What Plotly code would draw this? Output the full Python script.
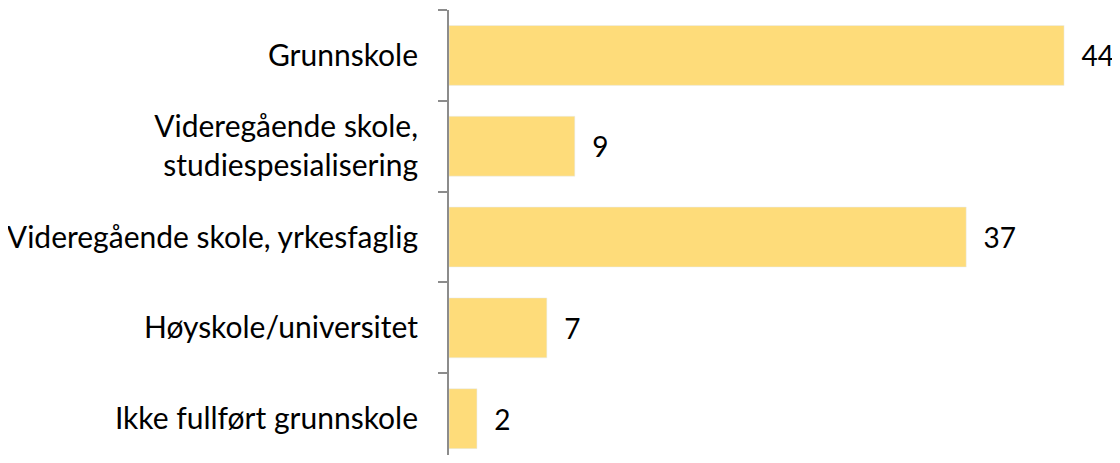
import plotly.graph_objects as go

# utdanningsnivå
kategorier = [
    "Grunnskole",
    "Videregående skole,<br>studiespesialisering",
    "Videregående skole, yrkesfaglig",
    "Høyskole/universitet",
    "Ikke fullført grunnskole",
]
verdier = [44, 9, 37, 7, 2]

fig = go.Figure()
fig.add_trace(go.Bar(
    x=verdier,
    y=kategorier,
    orientation="h",
    marker_color="#FEDC7A",
    text=[str(v) for v in verdier],
    texttemplate="  %{text}",
    textposition="outside",
    textfont=dict(size=28, color="black", family="Lato"),
    cliponaxis=False,
))

# page has 8px body margin, so figure is shrunk by that
fig.update_layout(
    width=1112, height=447,
    margin=dict(l=441, r=0, t=2, b=0),
    plot_bgcolor="white", paper_bgcolor="white",
    bargap=0.34,
    showlegend=False,
    font=dict(family="Lato", size=30, color="black"),
)
fig.update_xaxes(range=[0, 48], visible=False)
fig.update_yaxes(
    range=[4.4, -0.5],
    automargin=False,
    showline=True, linecolor="#8C8C8C", linewidth=2,
    ticks="outside", tickson="boundaries", ticklen=9, tickcolor="#8C8C8C", tickwidth=2,
    ticklabelstandoff=23,
    showgrid=False,
)

fig.write_html("out.html")
